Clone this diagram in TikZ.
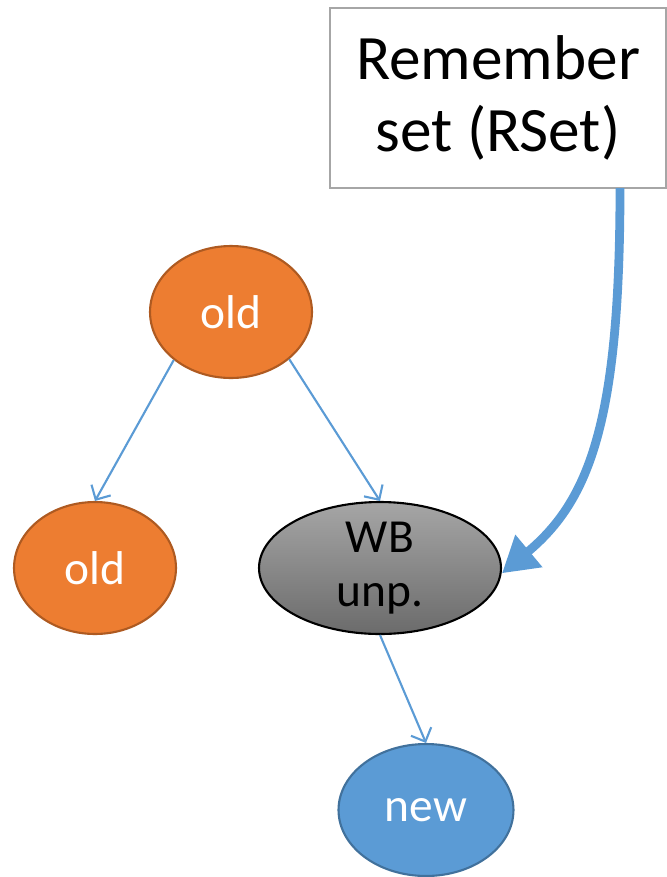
\documentclass[tikz,border=0pt]{standalone}
\usepackage{fontspec}
\setmainfont{Carlito}
\usetikzlibrary{arrows.meta,shapes.geometric}
\definecolor{oldfill}{HTML}{ED7D31}
\definecolor{olddraw}{HTML}{AE5A21}
\definecolor{newfill}{HTML}{5B9BD5}
\definecolor{newdraw}{HTML}{41719C}
\definecolor{linkblue}{HTML}{5B9BD5}
\tikzset{
  objnode/.style={ellipse, inner sep=0pt, line width=1.2pt, align=center,
    font=\fontsize{27}{31}\selectfont},
  oldobj/.style={objnode, fill=oldfill, draw=olddraw, text=white,
    minimum width=3.24cm, minimum height=2.64cm},
  newobj/.style={objnode, fill=newfill, draw=newdraw, text=white,
    minimum width=3.5cm, minimum height=2.64cm},
  wbobj/.style={objnode, top color=black!35, bottom color=black!58, draw=black,
    minimum width=4.84cm, minimum height=2.64cm},
  rsetbox/.style={rectangle, draw=black!35, line width=1.2pt, fill=white,
    minimum width=6.72cm, minimum height=3.6cm, align=center,
    font=\fontsize{36}{41}\selectfont},
  link/.style={draw=linkblue, line width=1.2pt,
    -{Straight Barb[length=2.2mm,width=4.4mm]}},
  rsetlink/.style={draw=linkblue, line width=5pt,
    -{Triangle[length=7mm,width=8mm]}}
}
\begin{document}
\begin{tikzpicture}[x=0.02cm,y=-0.02cm]
  \useasboundingbox (0,0) rectangle (667,877);

  % remembered set
  \node[rsetbox] (rset) at (498,98) {Remember\\set (RSet)};
  \coordinate (rsetout) at (620,188);

  % objects
  \node[oldobj] (oldtop) at (231,312) {old};
  \node[oldobj] (oldleft) at (95,568) {old};
  \node[wbobj] (wb) at (380,568) {WB\\unp.};
  \node[newobj] (new) at (426,810) {new};

  % references
  \draw[link] (oldtop.-140) -- (oldleft.north);
  \draw[link] (oldtop.-39) -- (wb.north);
  \draw[link] (wb.south) -- (new.north);

  % card from rset
  \draw[rsetlink] (rsetout) .. controls (620,420) and (590,500) .. ([yshift=-3pt]wb.east);
\end{tikzpicture}
\end{document}
